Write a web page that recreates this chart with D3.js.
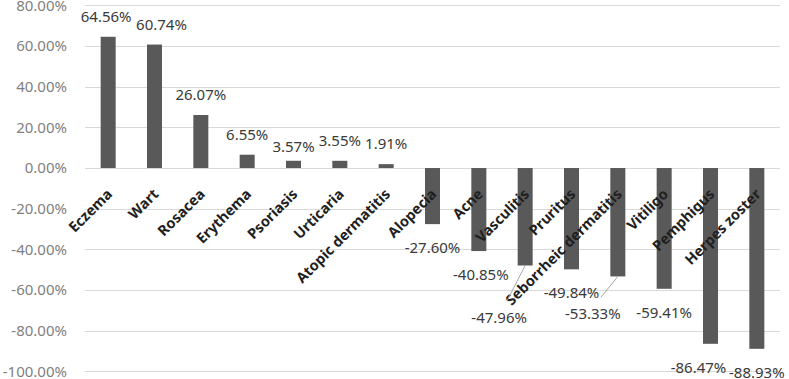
<!DOCTYPE html>
<html>
<head>
<meta charset="utf-8">
<script src="https://cdn.jsdelivr.net/npm/d3@7"></script>
<style>
  body { margin: 0; background: #fff; }
  svg { display: block; font-family: "Noto Sans", "Open Sans", sans-serif; }
</style>
</head>
<body>
<div id="chart"></div>
<script>
// Categories and their change values (fraction)
const categories = ['Eczema', 'Wart', 'Rosacea', 'Erythema', 'Psoriasis', 'Urticaria',
    'Atopic dermatitis', 'Alopecia', 'Acne', 'Vasculitis', 'Pruritus',
    'Seborrheic dermatitis', 'Vitiligo', 'Pemphigus', 'Herpes zoster'];
const values = [0.6456, 0.6074, 0.2607, 0.0655, 0.0357, 0.0355, 0.0191, -0.2760,
    -0.4085, -0.4796, -0.4984, -0.5333, -0.5941, -0.8647, -0.8893];
const yTicks = [0.8, 0.6, 0.4, 0.2, 0, -0.2, -0.4, -0.6, -0.8, -1.0];

// Manual label nudges (Excel moved some labels to avoid overlaps)
const labelNudge = {
    'Eczema': [-2, 0], 'Wart': [7, 0], 'Psoriasis': [0, 6], 'Acne': [2, 0],
    'Vasculitis': [-26, 28], 'Seborrheic dermatitis': [-25, 14], 'Pemphigus': [-12, 0]
};
const leaderLines = ['Vasculitis', 'Seborrheic dermatitis'];

const width = 789, height = 379;
const locale = d3.formatLocale({decimal: '.', thousands: ',', grouping: [3], currency: ['', ''], minus: '-'});
const pct = locale.format('.2%');

const svg = d3.select('#chart')
    .append('svg')
    .attr('width', width)
    .attr('height', height);

const x = d3.scaleBand()
    .domain(categories)
    .range([85, 780])
    .paddingInner(0.676)
    .paddingOuter(0.338);

const y = d3.scaleLinear()
    .domain([-1, 0.8])
    .range([371.3, 5.4]);

// Gridlines
svg.append('g')
    .selectAll('line')
    .data(yTicks)
    .enter()
    .append('line')
    .attr('x1', 85)
    .attr('x2', 780)
    .attr('y1', d => Math.round(y(d)) + 0.5)
    .attr('y2', d => Math.round(y(d)) + 0.5)
    .attr('stroke', '#d9d9d9')
    .attr('stroke-width', 1);

// Y axis labels
const yAxis = d3.axisLeft(y)
    .tickValues(yTicks)
    .tickFormat(pct)
    .tickSize(0)
    .tickPadding(0);

svg.append('g')
    .attr('transform', 'translate(67,0)')
    .call(yAxis)
    .call(g => g.select('.domain').remove())
    .selectAll('text')
    .attr('fill', '#7f7f7f')
    .style('font-size', '15px')
    .style('font-family', '"Noto Sans", sans-serif');

// Bars
svg.append('g')
    .selectAll('rect')
    .data(categories)
    .enter()
    .append('rect')
    .attr('x', (d, i) => x(d))
    .attr('width', x.bandwidth())
    .attr('y', (d, i) => y(Math.max(0, values[i])))
    .attr('height', (d, i) => Math.abs(y(values[i]) - y(0)))
    .attr('fill', '#595959');

// Category labels, rotated
svg.append('g')
    .selectAll('text')
    .data(categories)
    .enter()
    .append('text')
    .attr('transform', d => `translate(${x(d) + x.bandwidth() / 2 + 5},${y(0) + 27}) rotate(-45)`)
    .attr('text-anchor', 'end')
    .attr('fill', '#1f1f1f')
    .style('font-size', '14.5px')
    .style('font-weight', 'bold')
    .text(d => d);

// Leader lines
svg.append('g')
    .selectAll('line')
    .data(leaderLines)
    .enter()
    .append('line')
    .attr('x1', d => x(d) + x.bandwidth() / 2)
    .attr('y1', d => y(values[categories.indexOf(d)]))
    .attr('x2', d => x(d) + x.bandwidth() / 2 + labelNudge[d][0] + 8)
    .attr('y2', d => y(values[categories.indexOf(d)]) + 29 + labelNudge[d][1] - 22)
    .attr('stroke', '#a6a6a6')
    .attr('stroke-width', 1);

// Data labels
svg.append('g')
    .selectAll('text')
    .data(categories)
    .enter()
    .append('text')
    .attr('x', d => x(d) + x.bandwidth() / 2 + (labelNudge[d] ? labelNudge[d][0] : 0))
    .attr('y', (d, i) => {
        const base = values[i] >= 0 ? y(values[i]) - 15 : y(values[i]) + 29;
        return base + (labelNudge[d] ? labelNudge[d][1] : 0);
    })
    .attr('text-anchor', 'middle')
    .attr('fill', '#3a3a3a')
    .style('font-size', '15px')
    .text((d, i) => pct(values[i]));
</script>
</body>
</html>
